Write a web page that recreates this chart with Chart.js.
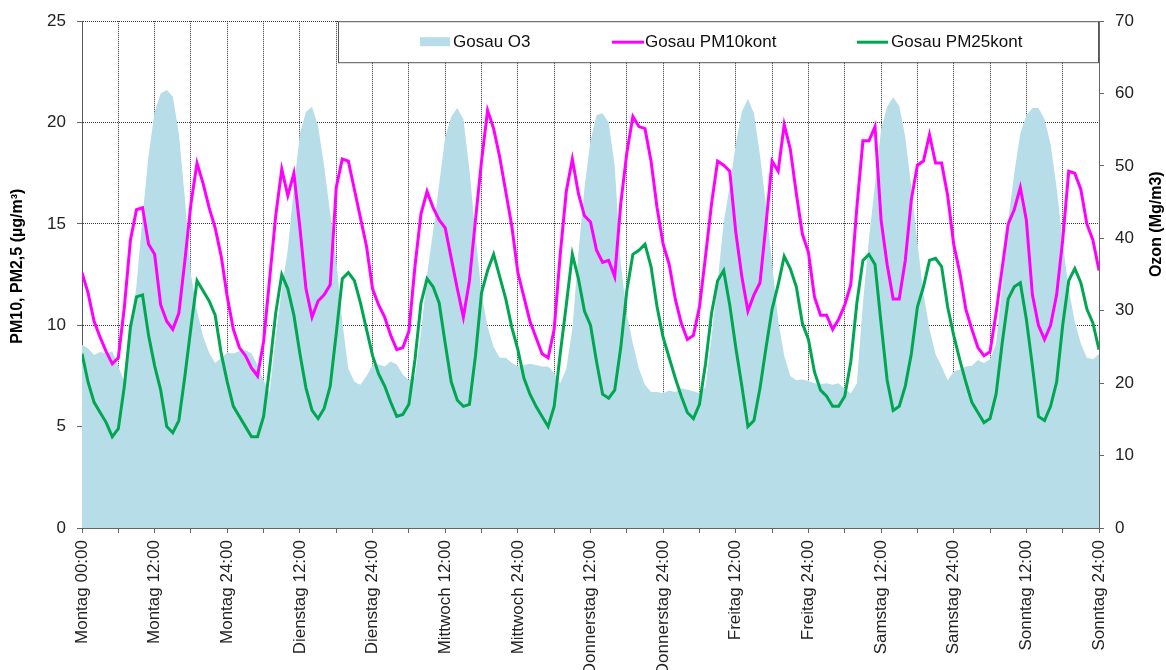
<!DOCTYPE html>
<html>
<head>
<meta charset="utf-8">
<title>Gosau O3 / PM10 / PM2,5</title>
<script src="https://cdn.jsdelivr.net/npm/chart.js@4.4.0/dist/chart.umd.min.js"></script>
<style>
  html, body { margin: 0; padding: 0; background: #fff; overflow: hidden; }
  #wrap { width: 1166px; height: 670px; }
</style>
</head>
<body>
<div id="wrap"><canvas id="chart" width="1166" height="670"></canvas></div>
<script>
// one label every 12 hours, hours 0..168
const xTickLabels = [
  "Montag 00:00", "Montag 12:00", "Montag 24:00",
  "Dienstag 12:00", "Dienstag 24:00",
  "Mittwoch 12:00", "Mittwoch 24:00",
  "Donnerstag 12:00", "Donnerstag 24:00",
  "Freitag 12:00", "Freitag 24:00",
  "Samstag 12:00", "Samstag 24:00",
  "Sonntag 12:00", "Sonntag 24:00"
];

// hourly values, Montag 00:00 .. Sonntag 24:00 (169 values each)
const o3 = [
  25.3, 24.8, 23.9, 24.3, 24.1, 24.4, 22.3, 20.2, 26.7, 33.5, 43.0, 51.5, 57.5, 60.0, 60.5, 59.6, 54.5, 45.5, 35.0, 30.0, 26.5, 24.2, 22.8, 23.5,
  24.2, 24.1, 24.4, 24.6, 24.1, 22.5, 20.4, 18.7, 26.5, 33.0, 38.5, 47.0, 54.5, 57.5, 58.2, 55.5, 50.0, 43.5, 37.0, 28.5, 22.0, 20.2, 19.8, 21.0,
  22.5, 22.6, 22.3, 23.0, 22.6, 21.2, 20.4, 21.0, 27.0, 35.0, 41.0, 47.5, 54.0, 56.8, 58.0, 56.5, 49.5, 40.5, 32.4, 27.8, 25.0, 23.5, 23.5, 22.8,
  22.3, 22.5, 22.7, 22.5, 22.3, 22.3, 21.4, 20.0, 22.0, 27.5, 38.0, 47.0, 53.5, 57.0, 57.3, 56.0, 50.0, 36.5, 29.5, 25.5, 22.0, 19.8, 18.8, 18.8,
  18.6, 19.0, 18.8, 19.3, 19.1, 18.9, 18.6, 19.5, 26.5, 34.0, 42.2, 47.2, 53.0, 57.5, 59.3, 57.3, 51.5, 44.5, 36.5, 28.7, 23.8, 21.0, 20.4, 20.5,
  20.3, 20.0, 19.9, 20.0, 19.8, 20.0, 19.2, 18.6, 20.0, 31.0, 40.0, 47.5, 55.0, 58.2, 59.5, 58.3, 54.0, 47.0, 39.5, 32.4, 27.5, 24.0, 22.3, 20.4,
  21.6, 21.9, 22.3, 22.4, 23.2, 22.8, 23.3, 25.5, 33.5, 42.5, 49.0, 54.5, 57.0, 58.0, 58.0, 56.5, 53.0, 47.0, 39.5, 33.0, 28.5, 25.5, 23.5, 23.3,
  24.0
];

const pm10 = [
  12.6, 11.6, 10.2, 9.4, 8.7, 8.1, 8.4, 10.9, 14.2, 15.7, 15.8, 14.0, 13.5, 11.0, 10.2, 9.8, 10.6, 13.2, 16.0, 18.0, 17.0, 15.8, 14.8, 13.4,
  11.4, 9.8, 8.9, 8.5, 7.9, 7.5, 9.2, 12.3, 15.4, 17.7, 16.4, 17.5, 14.8, 11.8, 10.4, 11.2, 11.5, 12.0, 16.8, 18.2, 18.1, 16.7, 15.3, 13.9,
  11.8, 11.0, 10.4, 9.5, 8.8, 8.9, 9.7, 12.9, 15.5, 16.6, 15.8, 15.2, 14.8, 13.3, 11.8, 10.4, 12.2, 15.2, 18.1, 20.6, 19.7, 18.3, 16.6, 14.9,
  12.6, 11.4, 10.2, 9.4, 8.6, 8.4, 9.8, 13.5, 16.6, 18.2, 16.5, 15.4, 15.1, 13.7, 13.1, 13.2, 12.4, 16.0, 18.5, 20.3, 19.8, 19.7, 18.1, 15.8,
  14.0, 13.0, 11.3, 10.1, 9.3, 9.5, 10.9, 13.4, 16.0, 18.1, 17.9, 17.6, 14.6, 12.4, 10.7, 11.5, 12.1, 15.0, 18.1, 17.6, 19.9, 18.7, 16.5, 14.5,
  13.6, 11.4, 10.5, 10.5, 9.8, 10.3, 11.0, 12.0, 15.8, 19.1, 19.1, 19.8, 15.2, 13.0, 11.3, 11.3, 13.2, 16.2, 17.9, 18.1, 19.4, 18.0, 18.0, 16.4,
  14.0, 12.6, 10.8, 9.8, 8.9, 8.5, 8.7, 10.6, 12.8, 15.0, 15.7, 16.8, 15.2, 11.5, 10.0, 9.3, 10.0, 11.5, 14.2, 17.6, 17.5, 16.7, 15.0, 14.2,
  12.7
];

const pm25 = [
  8.6, 7.2, 6.2, 5.7, 5.2, 4.5, 4.9, 7.0, 9.9, 11.4, 11.5, 9.5, 8.0, 6.8, 5.0, 4.7, 5.3, 7.5, 9.9, 12.2, 11.7, 11.2, 10.5, 8.6,
  7.2, 6.0, 5.5, 5.0, 4.5, 4.5, 5.5, 7.9, 10.6, 12.5, 11.8, 10.5, 8.6, 6.9, 5.8, 5.4, 5.9, 7.0, 9.6, 12.3, 12.6, 12.2, 11.1, 9.8,
  8.5, 7.6, 7.0, 6.2, 5.5, 5.6, 6.1, 8.3, 11.1, 12.3, 11.9, 11.1, 9.1, 7.2, 6.3, 6.0, 6.1, 8.5, 11.6, 12.7, 13.5, 12.4, 11.3, 9.9,
  8.8, 7.4, 6.6, 6.0, 5.5, 5.0, 6.0, 8.6, 11.0, 13.5, 12.3, 10.7, 10.0, 8.2, 6.6, 6.4, 6.8, 8.9, 11.7, 13.5, 13.7, 14.0, 12.9, 10.9,
  9.4, 8.4, 7.4, 6.5, 5.7, 5.4, 6.1, 8.1, 10.6, 12.2, 12.7, 11.0, 8.9, 7.0, 5.0, 5.3, 6.9, 8.9, 10.8, 12.0, 13.4, 12.8, 11.9, 10.1,
  9.3, 7.7, 6.8, 6.5, 6.0, 6.0, 6.5, 8.2, 11.1, 13.2, 13.5, 13.0, 10.1, 7.3, 5.8, 6.0, 7.0, 8.6, 10.9, 11.9, 13.2, 13.3, 12.9, 10.9,
  9.5, 8.3, 7.2, 6.2, 5.7, 5.2, 5.4, 6.6, 9.1, 11.3, 11.9, 12.1, 10.3, 8.0, 5.5, 5.3, 6.0, 7.2, 10.0, 12.2, 12.8, 12.1, 10.8, 10.1,
  8.8
];

const FONT = "'Liberation Sans', Arial, sans-serif";
const O3_COLOR = "#B7DDE8";
const PM10_COLOR = "#FF00FF";
const PM25_COLOR = "#00A651";

const toPoints = values => values.map((v, hour) => ({ x: hour, y: v }));

// white legend box sitting inside the plot, top right
const legendBox = {
  id: "legendBox",
  afterDatasetsDraw(chart) {
    const { ctx, chartArea } = chart;
    const left = chartArea.left + 256;
    const top = chartArea.top;
    const right = chartArea.right;
    const bottom = chartArea.top + 41;
    const cy = top + 21;

    ctx.save();
    ctx.fillStyle = "#fff";
    ctx.fillRect(left, top, right - left, bottom - top);
    ctx.strokeStyle = "#555";
    ctx.lineWidth = 1;
    ctx.strokeRect(left + 0.5, top + 0.5, right - left - 1, bottom - top);

    ctx.font = "17px " + FONT;
    ctx.fillStyle = "#111";
    ctx.textBaseline = "middle";

    // O3 swatch
    ctx.fillStyle = O3_COLOR;
    ctx.fillRect(left + 82, cy - 5, 30, 9);
    ctx.fillStyle = "#111";
    ctx.fillText("Gosau O3", left + 115, cy);

    // PM10 swatch
    ctx.strokeStyle = PM10_COLOR;
    ctx.lineWidth = 3;
    ctx.beginPath();
    ctx.moveTo(left + 274, cy);
    ctx.lineTo(left + 306, cy);
    ctx.stroke();
    ctx.fillText("Gosau PM10kont", left + 307, cy);

    // PM25 swatch
    ctx.strokeStyle = PM25_COLOR;
    ctx.beginPath();
    ctx.moveTo(left + 519, cy);
    ctx.lineTo(left + 550, cy);
    ctx.stroke();
    ctx.fillText("Gosau PM25kont", left + 553, cy);
    ctx.restore();
  }
};

// rotated axis titles
const axisTitles = {
  id: "axisTitles",
  afterDraw(chart) {
    const { ctx, chartArea } = chart;
    ctx.save();
    ctx.font = "bold 16px " + FONT;
    ctx.fillStyle = "#000";
    ctx.textAlign = "center";
    ctx.textBaseline = "middle";

    ctx.save();
    ctx.translate(18, chartArea.top + 245);
    ctx.rotate(-Math.PI / 2);
    ctx.fillText("PM10, PM2,5 (\u00b5g/m\u00b3)", 0, 0);
    ctx.restore();

    ctx.save();
    ctx.translate(chart.width - 9, chartArea.top + 203);
    ctx.rotate(-Math.PI / 2);
    ctx.fillText("Ozon (Mg/m3)", 0, 0);
    ctx.restore();
    ctx.restore();
  }
};

new Chart(document.getElementById("chart"), {
  type: "line",
  data: {
    datasets: [
      {
        label: "Gosau PM25kont",
        data: toPoints(pm25),
        yAxisID: "y",
        borderColor: PM25_COLOR,
        borderWidth: 3,
        pointRadius: 0,
        fill: false,
        order: 1
      },
      {
        label: "Gosau PM10kont",
        data: toPoints(pm10),
        yAxisID: "y",
        borderColor: PM10_COLOR,
        borderWidth: 3,
        pointRadius: 0,
        fill: false,
        order: 2
      },
      {
        label: "Gosau O3",
        data: toPoints(o3),
        yAxisID: "y2",
        borderColor: "transparent",
        borderWidth: 0,
        backgroundColor: O3_COLOR,
        pointRadius: 0,
        fill: "origin",
        order: 3
      }
    ]
  },
  options: {
    responsive: false,
    animation: false,
    devicePixelRatio: 1,
    layout: { padding: { top: 21, left: 0, right: 0, bottom: 0 } },
    plugins: {
      legend: { display: false },
      tooltip: { enabled: false }
    },
    scales: {
      x: {
        type: "linear",
        min: 0,
        max: 168,
        afterFit: scale => { scale.height = 142; },
        ticks: {
          stepSize: 6,
          autoSkip: false,
          maxRotation: 90,
          minRotation: 90,
          padding: 7,
          color: "#222",
          font: { family: FONT, size: 17 },
          callback: value => (value % 12 === 0 ? xTickLabels[value / 12] : "")
        },
        grid: { color: "#333", lineWidth: 1, tickLength: 5, tickColor: "#666" },
        border: { color: "#666", dash: [1, 1] }
      },
      y: {
        position: "left",
        min: 0,
        max: 25,
        afterFit: scale => { scale.width = 82; },
        ticks: {
          stepSize: 5,
          padding: 11,
          color: "#222",
          font: { family: FONT, size: 17 }
        },
        grid: { color: "#333", lineWidth: 1, tickLength: 5, tickColor: "#666" },
        border: { color: "#555", dash: [1, 1] }
      },
      y2: {
        position: "right",
        min: 0,
        max: 70,
        afterFit: scale => { scale.width = 67; },
        ticks: {
          stepSize: 10,
          padding: 11,
          color: "#222",
          font: { family: FONT, size: 17 }
        },
        grid: { drawOnChartArea: false, tickLength: 5, tickColor: "#666" },
        border: { color: "#666" }
      }
    }
  },
  plugins: [legendBox, axisTitles]
});
</script>
</body>
</html>
